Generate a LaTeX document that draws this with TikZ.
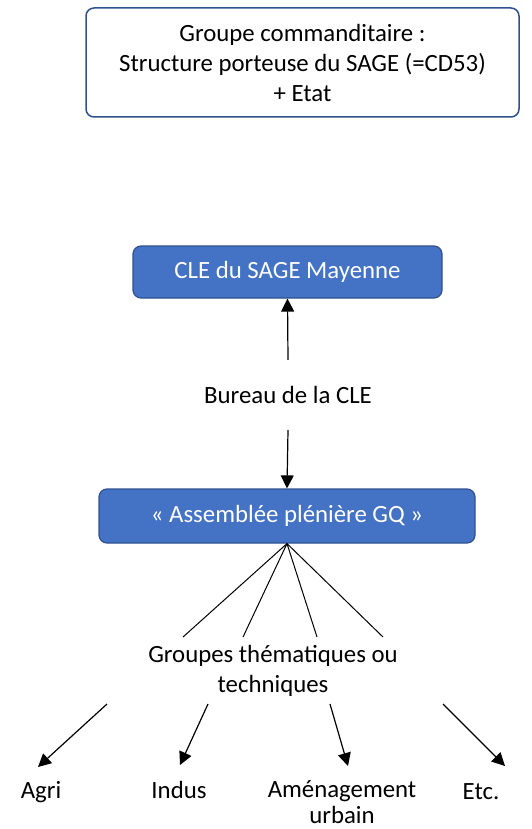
\documentclass[tikz,border=0pt]{standalone}
\usepackage{fontspec}
\setmainfont{Carlito}
\usetikzlibrary{arrows.meta}
\definecolor{cleblue}{HTML}{4472C4}
\definecolor{cleedge}{HTML}{2F528F}

\begin{document}
\begin{tikzpicture}[x=1pt, y=-1pt,
    font=\fontsize{24.8}{30}\selectfont,
    whitebox/.style={draw=cleedge, line width=1.5pt, rounded corners=8pt, fill=white, align=center},
    bluebox/.style={draw=cleedge, line width=1.2pt, rounded corners=8pt, fill=cleblue, text=white},
    arrow/.style={line width=1.2pt, -{Triangle[width=13pt,length=13pt]}},
    link/.style={line width=1pt}]
    \useasboundingbox (0,0) rectangle (532,829);

    % commanditaire
    \node[whitebox, minimum width=433pt, minimum height=109pt] (cmd) at (302.5,62.5)
        {Groupe commanditaire :\\Structure porteuse du SAGE (=CD53)\\+ Etat};

    % CLE, bureau, assemblee
    \node[bluebox, minimum width=309pt, minimum height=52pt] (cle) at (287.5,272) {CLE du SAGE Mayenne};
    \node[minimum height=70pt] (bureau) at (288,395) {Bureau de la CLE};
    \node[bluebox, minimum width=376pt, minimum height=54pt] (assemblee) at (287,516) {« Assemblée plénière GQ »};

    \draw[arrow] (bureau.north) -- (cle.south);
    \draw[arrow] (bureau.south) -- (assemblee.north);

    % groupes
    \node[align=center] (groupes) at (273,671) {Groupes thématiques ou\\techniques};
    \coordinate (g1) at (183,637);
    \coordinate (g2) at (243,637);
    \coordinate (g3) at (317,637);
    \coordinate (g4) at (383,637);
    \foreach \g in {g1,g2,g3,g4}
        \draw[link] (assemblee.south) -- (\g);

    % themes
    \node (agri) at (41,792) {Agri};
    \node (indus) at (179,790) {Indus};
    \node[align=center, inner sep=0pt] (amenag) at (342,802) {Aménagement\\[-4pt]urbain};
    \node (etc) at (481,792) {Etc.};

    \coordinate (t1) at (107,704);
    \coordinate (t2) at (208,704);
    \coordinate (t3) at (330,704);
    \coordinate (t4) at (443,704);
    \coordinate (e1) at (38,767);
    \coordinate (e2) at (180,765);
    \coordinate (e3) at (348,766);
    \coordinate (e4) at (505,766);
    \foreach \i in {1,...,4}
        \draw[arrow] (t\i) -- (e\i);
\end{tikzpicture}
\end{document}
